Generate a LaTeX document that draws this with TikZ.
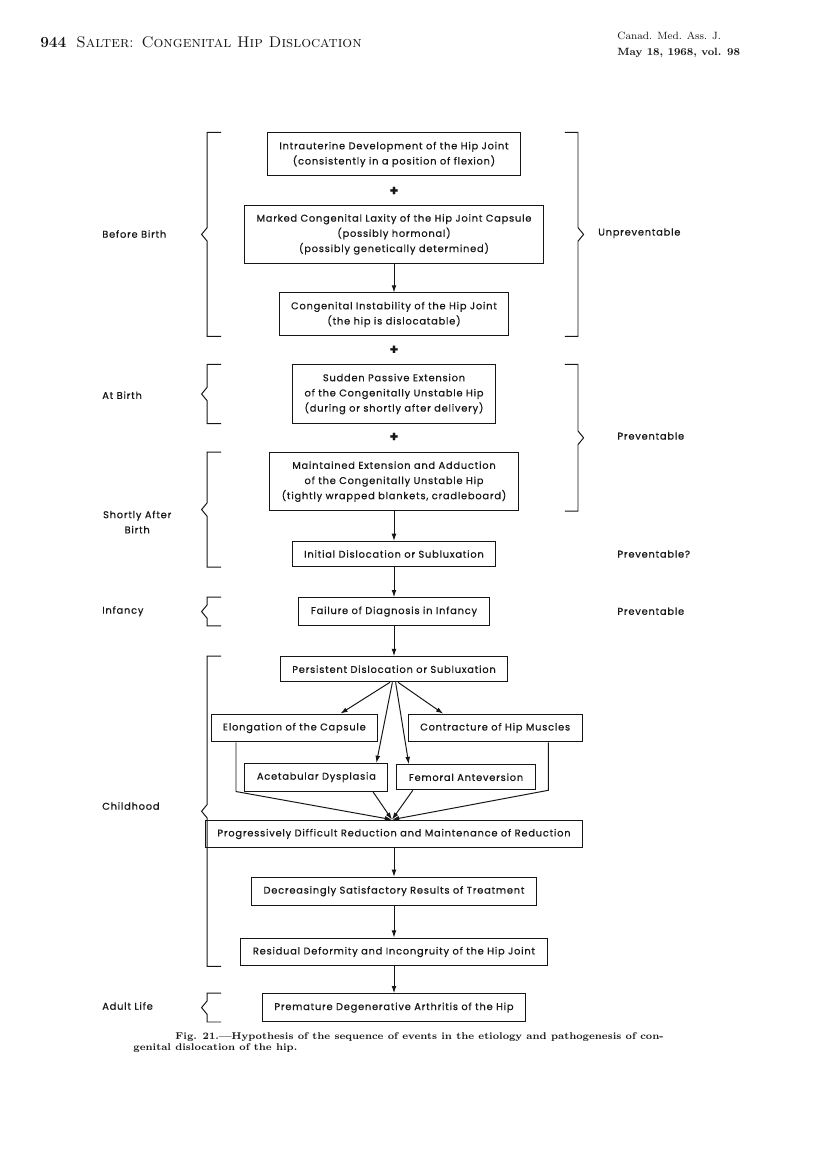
\documentclass[tikz,border=0pt]{standalone}
\usepackage{fontspec}
\newfontfamily\figfont[LetterSpace=8,FakeBold=0.5]{Poppins}
\usetikzlibrary{arrows.meta,calc,positioning}
\definecolor{ink}{HTML}{161616}
\tikzset{
  % ---- boxes of the sequence --------------------------------------
  stage/.style    = {draw=ink, line width=.7pt, fill=white, align=center,
                     font=\figfont\fontsize{7}{10.8}\selectfont, text=ink,
                     inner xsep=3mm, inner ysep=2.2mm},
  plussign/.style = {font=\figfont\bfseries\fontsize{10}{10}\selectfont,
                     text=ink, inner sep=0pt},
  flow/.style     = {draw=ink, line width=.7pt,
                     -{Latex[length=1.8mm,width=1.2mm]}},
  % ---- periods and brackets ---------------------------------------
  brak/.style     = {draw=ink, line width=.7pt},
  period/.style   = {font=\figfont\fontsize{7}{10.8}\selectfont, text=ink,
                     align=center, inner sep=0pt},
  verdict/.style  = {period, anchor=west},
  % ---- page --------------------------------------------------------
  runhead/.style  = {text=ink, inner sep=0pt},
  figcap/.style   = {text=ink, inner sep=0pt, anchor=north west,
                     align=left, font=\bfseries\fontsize{7}{8}\selectfont},
}

\begin{document}
\begin{tikzpicture}
\begin{scope}[scale=1.0]
  \fill[white] (0,0) rectangle (20.4,-28.825);
  \useasboundingbox (0,0) rectangle (20.4,-28.825);
  % running head
  \node[runhead, anchor=west] (head) at (1.00,-1.05)
    {\fontsize{11}{12}\selectfont\textbf{944}\hspace{2.5mm}\textsc{Salter}:\hspace{2mm}\textsc{Congenital Hip Dislocation}};
  \node[runhead, anchor=north west, align=left] (jour) at (15.43,-0.78)
    {\fontsize{7.5}{7.5}\selectfont Canad. Med. Ass. J.\\\fontsize{7.5}{7.5}\selectfont\bfseries May 18, 1968, vol. 98};
  % sequence
  \node[stage] (b1) at (9.85,-3.86) {Intrauterine Development of the Hip Joint\\(consistently in a position of flexion)};
  \node[plussign] (p1) at (9.85,-4.78) {+};
  \node[stage] (b2) at (9.85,-5.86) {Marked Congenital Laxity of the Hip Joint Capsule\\(possibly hormonal)\\(possibly genetically determined)};
  \node[stage] (b3) at (9.85,-7.86) {Congenital Instability of the Hip Joint\\(the hip is dislocatable)};
  \node[plussign] (p2) at (9.85,-8.75) {+};
  \node[stage] (b4) at (9.85,-9.85) {Sudden Passive Extension\\of the Congenitally Unstable Hip\\(during or shortly after delivery)};
  \node[plussign] (p3) at (9.85,-10.93) {+};
  \node[stage] (b5) at (9.85,-12.04) {Maintained Extension and Adduction\\of the Congenitally Unstable Hip\\(tightly wrapped blankets, cradleboard)};
  \node[stage] (b6) at (9.85,-13.85) {Initial Dislocation or Subluxation};
  \node[stage] (b7) at (9.85,-15.29) {Failure of Diagnosis in Infancy};
  \node[stage] (b8) at (9.85,-16.73) {Persistent Dislocation or Subluxation};
  \node[stage] (b9) at (7.36,-18.20) {Elongation of the Capsule};
  \node[stage] (b10) at (12.38,-18.20) {Contracture of Hip Muscles};
  \node[stage] (b11) at (7.91,-19.43) {Acetabular Dysplasia};
  \node[stage] (b12) at (11.65,-19.43) {Femoral Anteversion};
  \node[stage] (b13) at (9.85,-20.85) {Progressively Difficult Reduction and Maintenance of Reduction};
  \node[stage] (b14) at (9.85,-22.28) {Decreasingly Satisfactory Results of Treatment};
  \node[stage] (b15) at (9.85,-23.80) {Residual Deformity and Incongruity of the Hip Joint};
  \node[stage] (b16) at (9.85,-25.19) {Premature Degenerative Arthritis of the Hip};
  \draw[flow] (b2) -- (b3);
  \draw[flow] (b5) -- (b6);
  \draw[flow] (b6) -- (b7);
  \draw[flow] (b7) -- (b8);
  \draw[flow] (b13) -- (b14);
  \draw[flow] (b14) -- (b15);
  \draw[flow] (b15) -- (b16);
  % fan out and merge
  \draw[flow] ([xshift=-1mm]b8.south) -- ([xshift=11.5mm]b9.north);
  \draw[flow] ([xshift=-.4mm]b8.south) -- ([xshift=15mm]b11.north);
  \draw[flow] ([xshift=.4mm]b8.south) -- ([xshift=-14.3mm]b12.north);
  \draw[flow] ([xshift=1mm]b8.south) -- ([xshift=-13mm]b10.north);
  \coordinate (mrg) at ([xshift=-.5mm]b13.north);
  \draw[flow] ([xshift=-14.6mm]b9.south) -- ([xshift=-14.6mm]b9.south |- b11.south) -- (mrg);
  \draw[flow] ([xshift=14.1mm]b11.south) -- (mrg);
  \draw[flow] ([xshift=-13.3mm]b12.south) -- (mrg);
  \draw[flow] ([xshift=13.3mm]b10.south) -- ([xshift=13.3mm]b10.south |- b12.south) -- (mrg);
  % brackets
  \coordinate (lx) at (5.18,0);
  \coordinate (rx) at (14.45,0);
  \draw[brak] ([xshift=3.5mm]lx |- b1.north) -- (lx |- b1.north)
    -- ($(lx |- b1.north)!.5!(lx |- b3.south)+(0,.17)$) -- ++(-.14,-.17) -- ++(.14,-.17)
    -- (lx |- b3.south) -- ++(.35,0);
  \draw[brak] ([xshift=3.5mm]lx |- b4.north) -- (lx |- b4.north)
    -- ($(lx |- b4.north)!.5!(lx |- b4.south)+(0,.17)$) -- ++(-.14,-.17) -- ++(.14,-.17)
    -- (lx |- b4.south) -- ++(.35,0);
  \draw[brak] ([xshift=3.5mm]lx |- b5.north) -- (lx |- b5.north)
    -- ($(lx |- b5.north)!.5!(lx |- b6.south)+(0,.17)$) -- ++(-.14,-.17) -- ++(.14,-.17)
    -- (lx |- b6.south) -- ++(.35,0);
  \draw[brak] ([xshift=3.5mm]lx |- b7.north) -- (lx |- b7.north)
    -- ($(lx |- b7.north)!.5!(lx |- b7.south)+(0,.17)$) -- ++(-.14,-.17) -- ++(.14,-.17)
    -- (lx |- b7.south) -- ++(.35,0);
  \draw[brak] ([xshift=3.5mm]lx |- b8.north) -- (lx |- b8.north)
    -- ($(lx |- b8.north)!.5!(lx |- b15.south)+(0,.17)$) -- ++(-.14,-.17) -- ++(.14,-.17)
    -- (lx |- b15.south) -- ++(.35,0);
  \draw[brak] ([xshift=3.5mm]lx |- b16.north) -- (lx |- b16.north)
    -- ($(lx |- b16.north)!.5!(lx |- b16.south)+(0,.17)$) -- ++(-.14,-.17) -- ++(.14,-.17)
    -- (lx |- b16.south) -- ++(.35,0);
  \draw[brak] ([xshift=-3.3mm]rx |- b1.north) -- (rx |- b1.north)
    -- ($(rx |- b1.north)!.5!(rx |- b3.south)+(0,.17)$) -- ++(.14,-.17) -- ++(-.14,-.17)
    -- (rx |- b3.south) -- ++(-.33,0);
  \draw[brak] ([xshift=-3.3mm]rx |- b4.north) -- (rx |- b4.north)
    -- ($(rx |- b4.north)!.5!(rx |- b5.south)+(0,.17)$) -- ++(.14,-.17) -- ++(-.14,-.17)
    -- (rx |- b5.south) -- ++(-.33,0);
  % periods
  \node[period, anchor=west] (t1) at (2.55,-5.85) {Before Birth};
  \node[period, anchor=west] (t2) at (2.55,-9.88) {At Birth};
  \node[period] (t3) at (3.43,-13.05) {Shortly After\\Birth};
  \node[period, anchor=west] (t4) at (2.55,-15.28) {Infancy};
  \node[period, anchor=west] (t5) at (2.55,-20.15) {Childhood};
  \node[period, anchor=west] (t6) at (2.55,-25.15) {Adult Life};
  \node[verdict] (v1) at (14.95,-5.83) {Unpreventable};
  \node[verdict] (v2) at (15.43,-10.90) {Preventable};
  \node[verdict] (v3) at (15.43,-13.85) {Preventable?};
  \node[verdict] (v4) at (15.43,-15.28) {Preventable};
  % caption
  \node[figcap] (cap) at (3.33,-25.80)
    {\hspace*{1.05cm}Fig. 21.---Hypothesis of the sequence of events in the etiology and pathogenesis of con-\\genital dislocation of the hip.};
\end{scope}
\end{tikzpicture}
\end{document}
